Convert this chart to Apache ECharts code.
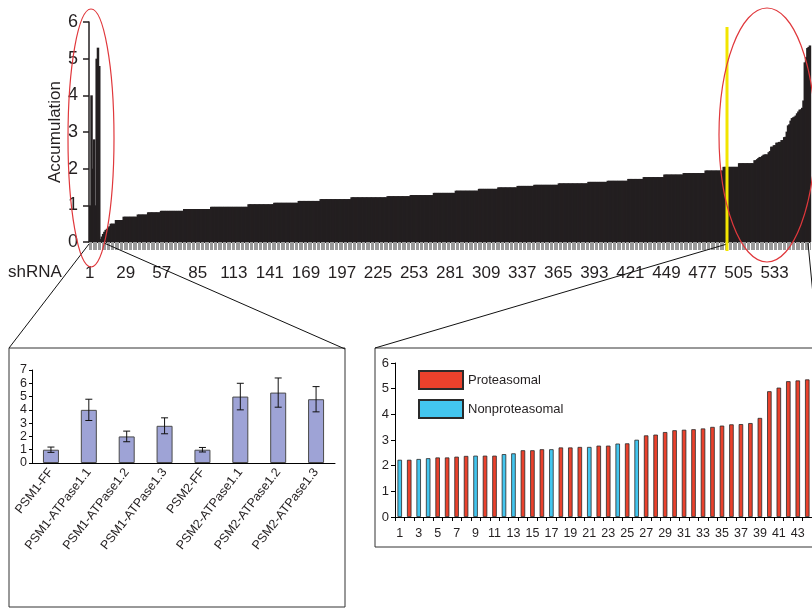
<!DOCTYPE html>
<html>
<head>
<meta charset="utf-8">
<script src="https://cdn.jsdelivr.net/npm/echarts@6/dist/echarts.min.js"></script>
<style>html,body{margin:0;padding:0;background:#fff}#c{width:812px;height:608px}</style>
</head>
<body>
<div id="c"></div>
<script>
// ---- Data ----
const controlNames = ['PSM1-FF', 'PSM1-ATPase1.1', 'PSM1-ATPase1.2', 'PSM1-ATPase1.3',
                      'PSM2-FF', 'PSM2-ATPase1.1', 'PSM2-ATPase1.2', 'PSM2-ATPase1.3'];
const controlValues = [1, 4, 2, 2.8, 1, 5, 5.3, 4.8];
const controlErrors = [0.2, 0.8, 0.4, 0.6, 0.17, 1.0, 1.1, 0.95];

// sorted screen of shRNAs (main panel, after the 8 controls, before the top hits)
const screenValues = [
  0.08, 0.15, 0.22, 0.28, 0.33, 0.36, 0.40, 0.43,
  0.5, 0.5, 0.5, 0.5,
  0.6, 0.6, 0.6, 0.6, 0.6, 0.6,
  0.69, 0.69, 0.69, 0.69, 0.69, 0.69, 0.69, 0.69, 0.69, 0.69, 0.69,
  0.75, 0.75, 0.75, 0.75, 0.75, 0.75, 0.75, 0.75,
  0.81, 0.81, 0.81, 0.81, 0.81, 0.81, 0.81, 0.81, 0.81, 0.81,
  0.85, 0.85, 0.85, 0.85, 0.85, 0.85, 0.85, 0.85, 0.85, 0.85, 0.85, 0.85, 0.85, 0.85, 0.85, 0.85, 0.85, 0.85,
  0.9, 0.9, 0.9, 0.9, 0.9, 0.9, 0.9, 0.9, 0.9, 0.9, 0.9, 0.9, 0.9, 0.9, 0.9, 0.9, 0.9, 0.9, 0.9, 0.9, 0.9,
  0.96, 0.96, 0.96, 0.96, 0.96, 0.96, 0.96, 0.96, 0.96, 0.96, 0.96, 0.96, 0.96, 0.96, 0.96,
  0.96, 0.96, 0.96, 0.96, 0.96, 0.96, 0.96, 0.96, 0.96, 0.96, 0.96, 0.96, 0.96, 0.96,
  1.03, 1.03, 1.03, 1.03, 1.03, 1.03, 1.03, 1.03, 1.03, 1.03, 1.03, 1.03, 1.03, 1.03, 1.03, 1.03, 1.03, 1.03, 1.03, 1.03,
  1.07, 1.07, 1.07, 1.07, 1.07, 1.07, 1.07, 1.07, 1.07, 1.07, 1.07, 1.07, 1.07, 1.07, 1.07, 1.07, 1.07, 1.07, 1.07,
  1.12, 1.12, 1.12, 1.12, 1.12, 1.12, 1.12, 1.12, 1.12, 1.12, 1.12, 1.12, 1.12, 1.12, 1.12, 1.12, 1.12,
  1.17, 1.17, 1.17, 1.17, 1.17, 1.17, 1.17, 1.17, 1.17, 1.17, 1.17, 1.17,
  1.17, 1.17, 1.17, 1.17, 1.17, 1.17, 1.17, 1.17, 1.17, 1.17, 1.17, 1.17,
  1.22, 1.22, 1.22, 1.22, 1.22, 1.22, 1.22, 1.22, 1.22, 1.22, 1.22, 1.22, 1.22, 1.22,
  1.22, 1.22, 1.22, 1.22, 1.22, 1.22, 1.22, 1.22, 1.22, 1.22, 1.22, 1.22, 1.22, 1.22,
  1.25, 1.25, 1.25, 1.25, 1.25, 1.25, 1.25, 1.25, 1.25, 1.25, 1.25, 1.25, 1.25, 1.25, 1.25, 1.25, 1.25, 1.25,
  1.28, 1.28, 1.28, 1.28, 1.28, 1.28, 1.28, 1.28, 1.28, 1.28, 1.28, 1.28, 1.28, 1.28, 1.28, 1.28, 1.28, 1.28,
  1.34, 1.34, 1.34, 1.34, 1.34, 1.34, 1.34, 1.34, 1.34, 1.34, 1.34, 1.34, 1.34, 1.34, 1.34, 1.34, 1.34,
  1.4, 1.4, 1.4, 1.4, 1.4, 1.4, 1.4, 1.4, 1.4, 1.4, 1.4, 1.4, 1.4, 1.4, 1.4, 1.4, 1.4, 1.4,
  1.45, 1.45, 1.45, 1.45, 1.45, 1.45, 1.45, 1.45, 1.45, 1.45, 1.45, 1.45, 1.45, 1.45, 1.45,
  1.49, 1.49, 1.49, 1.49, 1.49, 1.49, 1.49, 1.49, 1.49, 1.49, 1.49, 1.49, 1.49, 1.49, 1.49,
  1.53, 1.53, 1.53, 1.53, 1.53, 1.53, 1.53, 1.53, 1.53, 1.53, 1.53, 1.53, 1.53,
  1.56, 1.56, 1.56, 1.56, 1.56, 1.56, 1.56, 1.56, 1.56, 1.56, 1.56, 1.56, 1.56, 1.56, 1.56, 1.56, 1.56, 1.56, 1.56,
  1.6, 1.6, 1.6, 1.6, 1.6, 1.6, 1.6, 1.6, 1.6, 1.6, 1.6, 1.6,
  1.6, 1.6, 1.6, 1.6, 1.6, 1.6, 1.6, 1.6, 1.6, 1.6, 1.6,
  1.64, 1.64, 1.64, 1.64, 1.64, 1.64, 1.64, 1.64, 1.64, 1.64, 1.64, 1.64, 1.64, 1.64, 1.64,
  1.67, 1.67, 1.67, 1.67, 1.67, 1.67, 1.67, 1.67, 1.67, 1.67, 1.67, 1.67, 1.67, 1.67, 1.67, 1.67,
  1.72, 1.72, 1.72, 1.72, 1.72, 1.72, 1.72, 1.72, 1.72, 1.72, 1.72, 1.72,
  1.77, 1.77, 1.77, 1.77, 1.77, 1.77, 1.77, 1.77, 1.77, 1.77, 1.77, 1.77, 1.77, 1.77, 1.77, 1.77,
  1.84, 1.84, 1.84, 1.84, 1.84, 1.84, 1.84, 1.84, 1.84, 1.84, 1.84, 1.84, 1.84, 1.84, 1.84,
  1.88, 1.88, 1.88, 1.88, 1.88, 1.88, 1.88, 1.88, 1.88, 1.88, 1.88, 1.88, 1.88, 1.88, 1.88, 1.88, 1.88,
  1.95, 1.95, 1.95, 1.95, 1.95, 1.95, 1.95, 1.95, 1.95, 1.95, 1.95, 1.95, 1.95, 1.95,
  2.05, 2.05, 2.05, 2.05, 2.05, 2.05, 2.05, 2.05, 2.05, 2.05, 2.05, 2.05,
  2.15, 2.15, 2.15, 2.15, 2.15, 2.15, 2.15, 2.15, 2.15, 2.15, 2.15, 2.15
];

// top hits (right inset; also the last bars of the main panel)
const topHitValues = [
  2.23, 2.23, 2.26, 2.29, 2.32, 2.32, 2.35, 2.38, 2.39, 2.39,
  2.39, 2.45, 2.48, 2.6, 2.6, 2.64, 2.64, 2.71, 2.71, 2.73,
  2.73, 2.78, 2.78, 2.86, 2.87, 3.01, 3.18, 3.21, 3.31, 3.38,
  3.40, 3.42, 3.45, 3.51, 3.56, 3.61, 3.62, 3.66, 3.86, 4.9,
  5.04, 5.29, 5.32, 5.36
];
const topHitTypes = [
  'N', 'P', 'N', 'N', 'P', 'P', 'P', 'P', 'N', 'P',
  'P', 'N', 'N', 'P', 'P', 'P', 'N', 'P', 'P', 'P',
  'N', 'P', 'P', 'N', 'P', 'N', 'P', 'P', 'P', 'P',
  'P', 'P', 'P', 'P', 'P', 'P', 'P', 'P', 'P', 'P',
  'P', 'P', 'P', 'P'
];
const seriesNames = ['Proteasomal', 'Nonproteasomal'];
const mainLabelStep = 28;

// ---- Build ----
const mainValues = controlValues.concat(screenValues, topHitValues);
const mainCats = mainValues.map((v, i) => String(i + 1));
const mainData = mainValues.map((v, i) => [i, v]);
const hitCats = topHitValues.map((v, i) => String(i + 1));
const protData = topHitValues.map((v, i) => topHitTypes[i] === 'P' ? v : '-');
const nonData = topHitValues.map((v, i) => topHitTypes[i] === 'N' ? v : '-');
const errData = controlValues.map((v, i) => [i, v - controlErrors[i], v + controlErrors[i]]);

const FONT = '"Liberation Sans", Arial, Helvetica, sans-serif';
const INK = '#231f20';

const chart = echarts.init(document.getElementById('c'), null, {renderer: 'canvas'});
chart.setOption({
  animation: false,
  backgroundColor: '#fff',
  textStyle: {fontFamily: FONT, color: INK},
  grid: [
    {left: 89, top: 22, width: 721, height: 220},
    {left: 32, top: 370, width: 303, height: 93},
    {left: 395, top: 363, width: 417, height: 154}
  ],
  legend: {
    data: seriesNames,
    orient: 'vertical',
    left: 413, top: 365,
    itemWidth: 44, itemHeight: 18, itemGap: 9,
    icon: 'rect',
    textStyle: {fontSize: 13, color: INK, fontFamily: FONT}
  },
  xAxis: [
    {
      type: 'category', gridIndex: 0, data: mainCats, boundaryGap: true,
      axisLine: {lineStyle: {color: INK, width: 1}},
      axisTick: {show: true, interval: 0, length: 8, lineStyle: {color: '#9a9a9a', width: 1}},
      axisLabel: {interval: mainLabelStep - 1, fontSize: 17, margin: 23, color: INK, fontFamily: FONT}
    },
    {
      type: 'category', gridIndex: 1, data: controlNames,
      axisLine: {lineStyle: {color: '#000', width: 1}},
      axisTick: {show: false},
      axisLabel: {interval: 0, rotate: 52, fontSize: 12.5, margin: 7, color: INK, fontFamily: FONT}
    },
    {
      type: 'category', gridIndex: 2, data: hitCats,
      axisLine: {lineStyle: {color: '#000', width: 1}},
      axisTick: {show: true, length: 4, interval: 0, lineStyle: {color: '#000'}},
      axisLabel: {interval: 1, fontSize: 12.5, margin: 10, color: INK, fontFamily: FONT}
    }
  ],
  yAxis: [
    {
      type: 'value', gridIndex: 0, min: 0, max: 6, interval: 1,
      name: 'Accumulation', nameLocation: 'middle', nameRotate: 90, nameGap: 25,
      nameMoveOverlap: false,
      nameTextStyle: {fontSize: 17, color: INK, fontFamily: FONT},
      axisLine: {show: true, lineStyle: {color: INK, width: 1.5}},
      axisTick: {show: true, length: 6, lineStyle: {color: INK, width: 1.5}},
      axisLabel: {fontSize: 18, margin: 11, color: INK, fontFamily: FONT},
      splitLine: {show: false}
    },
    {
      type: 'value', gridIndex: 1, min: 0, max: 7, interval: 1,
      axisLine: {show: true, lineStyle: {color: '#000', width: 1}},
      axisTick: {show: true, length: 3, lineStyle: {color: '#000'}},
      axisLabel: {fontSize: 12.5, margin: 5, color: INK, fontFamily: FONT},
      splitLine: {show: false}
    },
    {
      type: 'value', gridIndex: 2, min: 0, max: 6, interval: 1,
      axisLine: {show: true, lineStyle: {color: '#000', width: 1}},
      axisTick: {show: true, length: 4, lineStyle: {color: '#000'}},
      axisLabel: {fontSize: 13, margin: 6, color: INK, fontFamily: FONT},
      splitLine: {show: false}
    }
  ],
  series: [
    {
      type: 'custom', xAxisIndex: 0, yAxisIndex: 0, data: mainData,
      encode: {x: 0, y: 1},
      renderItem: function (params, api) {
        const top = api.coord([api.value(0), api.value(1)]);
        const base = api.coord([api.value(0), 0]);
        const w = api.size([1, 0])[0];
        return {
          type: 'rect',
          shape: {x: top[0] - w / 2, y: top[1], width: w + 1.2, height: base[1] - top[1]},
          style: {fill: INK, stroke: null}
        };
      }
    },
    {
      type: 'bar', xAxisIndex: 1, yAxisIndex: 1, data: controlValues,
      barWidth: 16,
      itemStyle: {color: '#9ea3d6', borderColor: '#4a4a4a', borderWidth: 1}
    },
    {
      type: 'custom', xAxisIndex: 1, yAxisIndex: 1, data: errData, z: 5,
      encode: {x: 0, y: [1, 2]},
      renderItem: function (params, api) {
        const lo = api.coord([api.value(0), api.value(1)]);
        const hi = api.coord([api.value(0), api.value(2)]);
        const w = 3.5;
        const st = {stroke: '#111', lineWidth: 1};
        return {type: 'group', children: [
          {type: 'line', shape: {x1: lo[0], y1: lo[1], x2: hi[0], y2: hi[1]}, style: st},
          {type: 'line', shape: {x1: lo[0] - w, y1: lo[1], x2: lo[0] + w, y2: lo[1]}, style: st},
          {type: 'line', shape: {x1: hi[0] - w, y1: hi[1], x2: hi[0] + w, y2: hi[1]}, style: st}
        ]};
      }
    },
    {
      name: seriesNames[0], type: 'bar', xAxisIndex: 2, yAxisIndex: 2, data: protData,
      barWidth: 4.5, barGap: '-100%',
      itemStyle: {color: '#ea412c', borderColor: '#2a2a2a', borderWidth: 0.8}
    },
    {
      name: seriesNames[1], type: 'bar', xAxisIndex: 2, yAxisIndex: 2, data: nonData,
      barWidth: 4.5, barGap: '-100%',
      itemStyle: {color: '#43c6ef', borderColor: '#2a2a2a', borderWidth: 0.8}
    }
  ],
  graphic: [
    {type: 'text', left: 8, top: 264, style: {text: 'shRNA', fontSize: 17, fontFamily: FONT, fill: INK}},
    {type: 'rect', z: 1, shape: {x: 9, y: 348, width: 336, height: 259}, style: {fill: 'none', stroke: '#333', lineWidth: 1}},
    {type: 'rect', z: 1, shape: {x: 375, y: 348, width: 460, height: 199}, style: {fill: 'none', stroke: '#333', lineWidth: 1}},
    {type: 'line', z: 100, shape: {x1: 89, y1: 244, x2: 9, y2: 348}, style: {stroke: '#111', lineWidth: 1}},
    {type: 'line', z: 100, shape: {x1: 104, y1: 243, x2: 345, y2: 349}, style: {stroke: '#111', lineWidth: 1}},
    {type: 'line', z: 100, shape: {x1: 727, y1: 244, x2: 375, y2: 348}, style: {stroke: '#111', lineWidth: 1}},
    {type: 'line', z: 100, shape: {x1: 808, y1: 243, x2: 814, y2: 305}, style: {stroke: '#111', lineWidth: 1}},
    {type: 'line', z: 101, shape: {x1: 727, y1: 27, x2: 727, y2: 251}, style: {stroke: '#f2e500', lineWidth: 3}},
    {type: 'ellipse', z: 102, shape: {cx: 91, cy: 138, rx: 23, ry: 129}, style: {fill: 'none', stroke: '#e0383c', lineWidth: 1.2}},
    {type: 'ellipse', z: 102, shape: {cx: 767, cy: 135, rx: 48, ry: 127}, style: {fill: 'none', stroke: '#e0383c', lineWidth: 1.2}}
  ]
});
</script>
</body>
</html>
